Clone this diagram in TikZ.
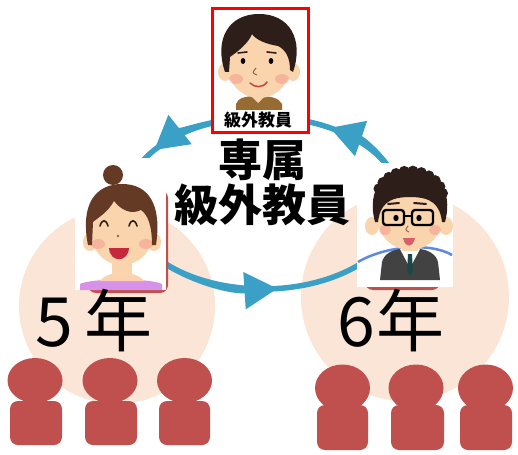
\documentclass[tikz,border=0pt]{standalone}
\usepackage{fontspec}
\newfontfamily\jp{Noto Sans CJK JP}
\usetikzlibrary{arrows.meta}

\definecolor{cycblue}{RGB}{58,160,198}
\definecolor{peach}{RGB}{251,229,214}
\definecolor{studentred}{RGB}{192,80,77}
\definecolor{skin}{RGB}{250,212,172}
\definecolor{hairdark}{RGB}{45,30,25}
\definecolor{hairbrown}{RGB}{100,58,36}
\definecolor{cheek}{RGB}{245,155,145}
\definecolor{shirtbrown}{RGB}{150,108,52}
\definecolor{blouse}{RGB}{215,145,232}
\definecolor{suit}{RGB}{66,66,66}
\definecolor{tie}{RGB}{30,72,72}
\definecolor{mouthred}{RGB}{200,40,62}
\definecolor{mouthpink}{RGB}{215,95,105}
\definecolor{nosebrown}{RGB}{150,100,70}
\definecolor{collarblue}{RGB}{95,135,228}

\tikzset{
  cycline/.style={draw=cycblue, line width=5.5pt},
  cyctip/.style={-{Triangle[length=33pt,width=36pt]}},
  gradecircle/.style={fill=peach},
  student/.style={fill=studentred},
  backing/.style={fill=studentred, rounded corners=8pt},
  photo/.style={fill=white, inner sep=0pt, outer sep=0pt},
  browline/.style={line width=1.6pt, line cap=round},
  gradetext/.style={font=\jp\fontsize{68}{70}\selectfont, inner sep=0pt},
  titletext/.style={font=\jp\bfseries\fontsize{44}{45}\selectfont, align=center, inner sep=0pt},
}

\begin{document}
\begin{tikzpicture}[x=1pt,y=1pt]
\useasboundingbox (0,0) rectangle (518,-454);

% grade circles
\fill[gradecircle] (117,-306) circle (98pt);
\fill[gradecircle] (405,-297) circle (104pt);

% pupils of each grade
\foreach \hx/\bl/\br in {35/10/62, 110/85/137, 184.5/159/210}{
  \fill[student] (\hx,-380.5) ellipse [x radius=27.5pt, y radius=22.5pt];
  \fill[student, rounded corners=8pt] (\bl,-401) rectangle (\br,-445);
}
\foreach \hx/\bl/\br in {342.5/317/368, 416/391/444, 485.5/460/512}{
  \fill[student] (\hx,-388) ellipse [x radius=27.5pt, y radius=23.5pt];
  \fill[student, rounded corners=8pt] (\bl,-405) rectangle (\br,-450);
}

% rotation cycle
\coordinate (cyc) at (263,-203);
\draw[cycline] ([shift={(215:138pt and 86pt)}]cyc) arc[start angle=215, end angle=325, x radius=138pt, y radius=86pt];
\draw[cycline, cyctip] ([shift={(215:138pt and 86pt)}]cyc) arc[start angle=215, end angle=276, x radius=138pt, y radius=86pt];
\draw[cycline] ([shift={(15:138pt and 86pt)}]cyc) arc[start angle=15, end angle=80, x radius=138pt, y radius=86pt];
\draw[cycline, cyctip] ([shift={(15:138pt and 86pt)}]cyc) arc[start angle=15, end angle=61, x radius=138pt, y radius=86pt];
\draw[cycline] ([shift={(100:138pt and 86pt)}]cyc) arc[start angle=100, end angle=162, x radius=138pt, y radius=86pt];
\draw[cycline, cyctip] ([shift={(100:138pt and 86pt)}]cyc) arc[start angle=100, end angle=142, x radius=138pt, y radius=86pt];

% red backings of the teacher portraits
\fill[backing] (88,-190) rectangle (168,-293);
\fill[backing] (365,-200) rectangle (440,-290);

% ---- 5th grade teacher (woman) ----
\node[photo, minimum width=91pt, minimum height=132pt] (woman) at (120.5,-224) {};
\fill[blouse] (80,-290) -- (80,-284) .. controls (92,-278) and (150,-278) .. (162,-284) -- (162,-290) -- cycle;
\fill[skin!85!pink] (100,-281) .. controls (108,-270) and (136,-270) .. (144,-281) -- cycle;
\fill[skin] (112,-258) rectangle (132,-276);
\fill[skin] (90,-242) ellipse [x radius=7pt, y radius=9pt];
\fill[skin] (154,-242) ellipse [x radius=7pt, y radius=9pt];
\fill[skin] (122,-233) ellipse [x radius=31pt, y radius=32pt];
\fill[cheek, opacity=.55] (98,-244) ellipse [x radius=7pt, y radius=5pt];
\fill[cheek, opacity=.55] (146,-244) ellipse [x radius=7pt, y radius=5pt];
\fill[hairbrown] (113,-175) circle (10pt);
\fill[hairbrown] (88,-245) .. controls (80,-205) and (95,-184) .. (122,-184)
  .. controls (149,-184) and (162,-205) .. (156,-245) -- (152,-245)
  .. controls (152,-226) and (148,-215) .. (141,-210)
  .. controls (131,-215) and (121,-210) .. (114,-201)
  .. controls (108,-212) and (99,-217) .. (93,-222) -- (92,-245) -- cycle;
\draw[browline, hairdark] (100,-226) .. controls (102,-219) and (106,-219) .. (108,-226);
\draw[browline, hairdark] (129,-226) .. controls (131,-219) and (135,-219) .. (137,-226);
\fill[nosebrown] (118,-236) circle (1.3pt);
\fill[mouthred] (109,-248) .. controls (110,-263) and (128,-263) .. (129,-248) -- cycle;

% ---- 6th grade teacher (man) ----
\node[photo, minimum width=96pt, minimum height=124pt] (man) at (405,-225) {};
\draw[collarblue, line width=2.5pt] (358,-262) .. controls (385,-246) and (430,-242) .. (452,-255);
\fill[suit] (380,-280) -- (382,-262) .. controls (384,-254) and (392,-250) .. (400,-249)
  -- (420,-249) .. controls (428,-250) and (436,-254) .. (438,-262) -- (440,-280) -- cycle;
\fill[white] (400,-249) -- (410,-268) -- (420,-249) -- cycle;
\fill[tie] (408,-254) -- (412,-254) -- (413,-272) -- (410,-276) -- (407,-272) -- cycle;
\fill[skin] (402,-242) rectangle (418,-251);
\fill[skin] (372,-226) ellipse [x radius=7pt, y radius=9pt];
\fill[skin] (446,-226) ellipse [x radius=7pt, y radius=9pt];
\fill[skin] (410,-216) ellipse [x radius=33pt, y radius=34pt];
\fill[cheek, opacity=.55] (385,-230) ellipse [x radius=6pt, y radius=5pt];
\fill[cheek, opacity=.55] (435,-230) ellipse [x radius=6pt, y radius=5pt];
\fill[hairdark] (375,-222) .. controls (366,-188) and (385,-170) .. (410,-170)
  .. controls (435,-170) and (454,-188) .. (445,-222) -- (442,-222)
  .. controls (440,-205) and (432,-197) .. (410,-197)
  .. controls (388,-197) and (380,-205) .. (378,-222) -- cycle;
\foreach \a in {10,25,...,170}
  \fill[hairdark] ([shift={(\a:33pt and 27pt)}]410,-198) circle (5.5pt);
\draw[browline, hairdark, line width=2pt] (388,-204) -- (399,-203);
\draw[browline, hairdark, line width=2pt] (414,-203) -- (426,-204);
\draw[black, line width=2.3pt, rounded corners=3pt] (383,-210) rectangle (404,-225);
\draw[black, line width=2.3pt, rounded corners=3pt] (412,-210) rectangle (433,-225);
\draw[black, line width=2pt] (404,-216) -- (412,-216);
\fill[black] (396,-218) ellipse [x radius=2.6pt, y radius=3.2pt];
\fill[black] (419,-218) ellipse [x radius=2.6pt, y radius=3.2pt];
\draw[nosebrown, line width=1pt] (408,-226) .. controls (405,-230) .. (409,-232);
\fill[mouthpink] (403,-238) .. controls (405,-248) and (413,-248) .. (415,-238) -- cycle;

% ---- the dedicated extra teacher ----
\node[photo, draw=red, line width=3pt, minimum width=96pt, minimum height=124pt] (topbox) at (260,-71) {};
\fill[shirtbrown] (236,-110) -- (236,-104) .. controls (238,-98) and (245,-96) .. (258,-96)
  .. controls (271,-96) and (279,-98) .. (282,-104) -- (282,-110) -- cycle;
\fill[skin] (251,-96) -- (258,-103) -- (265,-96) -- cycle;
\fill[skin] (225,-72) ellipse [x radius=7pt, y radius=9pt];
\fill[skin] (293,-72) ellipse [x radius=7pt, y radius=9pt];
\fill[skin] (259,-64) ellipse [x radius=32pt, y radius=34pt];
\fill[cheek, opacity=.55] (236,-79) ellipse [x radius=7pt, y radius=5pt];
\fill[cheek, opacity=.55] (282,-79) ellipse [x radius=7pt, y radius=5pt];
\fill[hairdark] (225,-72) .. controls (214,-40) and (228,-14) .. (259,-14)
  .. controls (290,-14) and (304,-40) .. (293,-72) -- (290,-70)
  .. controls (290,-58) and (286,-50) .. (278,-46)
  .. controls (266,-44) and (256,-40) .. (252,-34)
  .. controls (248,-44) and (237,-52) .. (230,-57) -- (229,-72) -- cycle;
\draw[browline, hairdark] (238,-53) -- (247,-52);
\draw[browline, hairdark] (267,-52) -- (276,-53);
\fill[black] (243,-61) ellipse [x radius=2.3pt, y radius=3pt];
\fill[black] (271,-61) ellipse [x radius=2.3pt, y radius=3pt];
\draw[nosebrown, line width=1pt] (256,-68) .. controls (252,-73) .. (257,-75);
\draw[mouthred!70!brown, line width=1.5pt, line cap=round] (250,-83) .. controls (255,-88) and (263,-88) .. (267,-82);
\node[inner sep=0pt, font=\jp\bfseries\fontsize{17}{17}\selectfont] (toplabel) at (258,-120) {級外教員};

% texts
\node[titletext] (title) at (262,-182) {専属\\級外教員};
\node[gradetext] (g5) at (94,-321) {5\kern11pt年};
\node[gradetext] (g6) at (391,-321) {6\kern2pt年};
\end{tikzpicture}
\end{document}
